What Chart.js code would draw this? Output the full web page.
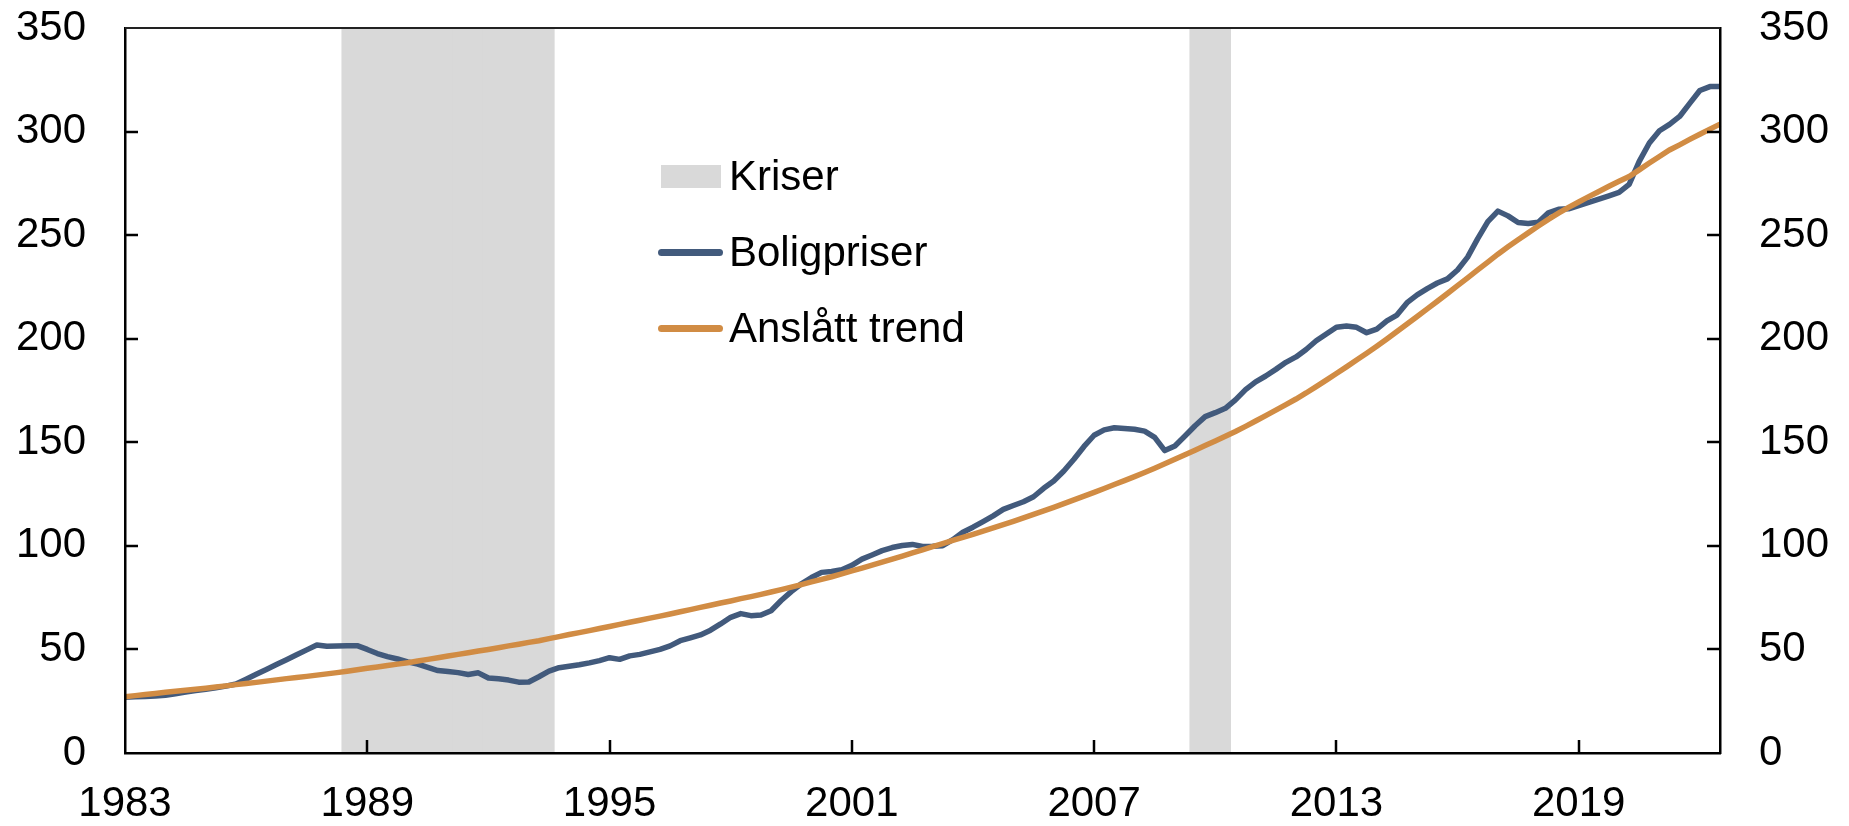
<!DOCTYPE html>
<html lang="no">
<head>
<meta charset="utf-8">
<title>Boligpriser og anslått trend</title>
<script src="https://cdn.jsdelivr.net/npm/chart.js@4.4.1/dist/chart.umd.min.js"></script>
<style>
    html, body { margin: 0; padding: 0; background: #fff; }
    #wrap { position: relative; width: 1849px; height: 826px; }
    #legend {
        position: absolute; left: 658px; top: 138px;
        font: 42px "Liberation Sans", Arial, sans-serif; color: #000;
    }
    .legend-item { display: flex; align-items: center; height: 76px; white-space: nowrap; }
    .legend-swatch { display: inline-block; }
    .legend-swatch.box { width: 60px; height: 23px; margin-left: 3px; margin-right: 8px; }
    .legend-swatch.line { width: 65px; height: 7px; border-radius: 4px; margin-right: 6px; }
</style>
</head>
<body>
<div id="wrap">
    <canvas id="chart"></canvas>
    <div id="legend"></div>
</div>
<script>
// Quarterly index, 1983K1 - 2022K3
const firstYear = 1983;
const quarterCount = 159;
const tickLabels = ['1983', '1989', '1995', '2001', '2007', '2013', '2019'];
const yTicks = { min: 0, max: 350, step: 50 };

const boligpriser = [
    26.9, 27.1, 27.3, 27.5, 27.9, 28.6, 29.4, 30.1, 30.8, 31.5,
    32.3, 33.3, 35.6, 38.0, 40.3, 42.7, 45.0, 47.4, 49.8, 52.1,
    51.5, 51.7, 51.8, 51.8, 50.0, 48.0, 46.5, 45.4, 44.0, 42.9,
    41.3, 39.8, 39.3, 38.8, 37.9, 38.7, 36.2, 35.8, 35.2, 34.2,
    34.3, 36.8, 39.5, 41.2, 41.9, 42.6, 43.5, 44.6, 46.0, 45.2,
    46.9, 47.6, 48.8, 50.0, 51.7, 54.2, 55.6, 57.0, 59.3, 62.3,
    65.5, 67.3, 66.3, 66.6, 68.7, 73.6, 77.9, 81.7, 84.7, 87.2,
    87.6, 88.5, 90.6, 93.6, 95.6, 97.7, 99.2, 100.2, 100.7, 99.7,
    99.8, 100.1, 103.0, 106.6, 109.0, 111.7, 114.5, 117.6, 119.5, 121.3,
    123.7, 127.8, 131.3, 136.1, 141.8, 148.0, 153.4, 156.0, 157.0, 156.7,
    156.3, 155.4, 152.4, 146.0, 148.2, 153.0, 158.0, 162.4, 164.3, 166.4,
    170.5, 175.4, 179.2, 182.0, 185.2, 188.6, 191.2, 194.8, 199.0, 202.3,
    205.5, 206.1, 205.5, 202.9, 204.6, 208.6, 211.4, 217.4, 221.2, 224.2,
    226.9, 228.9, 233.2, 239.4, 248.3, 256.5, 261.6, 259.3, 256.1, 255.6,
    256.2, 260.8, 262.5, 262.7, 264.3, 265.8, 267.4, 269.0, 270.6, 274.5,
    285.6, 294.5, 300.4, 303.5, 307.3, 313.6, 319.8, 321.7, 321.7
];

const trend = [
    27.2, 27.7, 28.2, 28.7, 29.3, 29.8, 30.3, 30.8, 31.3, 31.9,
    32.4, 33.0, 33.6, 34.1, 34.7, 35.3, 35.9, 36.4, 37.0, 37.6,
    38.2, 38.8, 39.5, 40.2, 40.9, 41.5, 42.2, 42.9, 43.6, 44.4,
    45.2, 46.0, 46.8, 47.6, 48.4, 49.2, 50.0, 50.8, 51.7, 52.5,
    53.4, 54.2, 55.2, 56.2, 57.2, 58.1, 59.1, 60.1, 61.1, 62.1,
    63.1, 64.1, 65.1, 66.1, 67.1, 68.2, 69.2, 70.3, 71.3, 72.4,
    73.4, 74.5, 75.5, 76.6, 77.7, 78.9, 80.1, 81.3, 82.6, 83.8,
    85.1, 86.5, 87.9, 89.3, 90.7, 92.1, 93.6, 95.1, 96.6, 98.1,
    99.6, 101.1, 102.6, 104.1, 105.6, 107.1, 108.7, 110.2, 111.8, 113.5,
    115.2, 116.9, 118.6, 120.4, 122.2, 124.0, 125.8, 127.7, 129.6, 131.5,
    133.4, 135.4, 137.5, 139.6, 141.8, 144.0, 146.2, 148.4, 150.6, 152.9,
    155.2, 157.7, 160.3, 162.9, 165.5, 168.2, 170.9, 173.8, 176.9, 180.0,
    183.2, 186.4, 189.7, 193.0, 196.4, 199.9, 203.5, 207.1, 210.7, 214.4,
    218.1, 221.8, 225.6, 229.4, 233.2, 237.0, 240.8, 244.4, 247.8, 251.1,
    254.4, 257.6, 260.6, 263.4, 266.0, 268.6, 271.1, 273.6, 276.0, 278.3,
    281.5, 284.8, 288.0, 291.1, 293.6, 296.2, 298.7, 301.2, 303.6
];

// Crisis periods (first and last quarter shaded)
const kriser = [
    ['1988K3', '1993K3'],
    ['2009K3', '2010K2']
];

const colors = {
    boligpriser: '#425a7c',
    trend: '#d18c44',
    kriser: '#d9d9d9'
};

const categories = [];
for (let i = 0; i < quarterCount; i++) {
    categories.push(`${firstYear + Math.floor(i / 4)}K${(i % 4) + 1}`);
}

const kriseBars = categories.map((q, i) => {
    const inCrisis = kriser.some(([from, to]) =>
        i >= categories.indexOf(from) && i <= categories.indexOf(to));
    return inCrisis ? yTicks.max : null;
});

Chart.defaults.font.family = '"Liberation Sans", Arial, sans-serif';
Chart.defaults.font.size = 42;
Chart.defaults.color = '#000';

const tickLen = 13;

// inward tick marks and the top frame line
const framePlugin = {
    id: 'frame',
    afterDraw(chart) {
        const { ctx, chartArea: a, scales } = chart;
        ctx.save();
        ctx.strokeStyle = '#000';
        ctx.lineWidth = 2.5;
        ctx.beginPath();
        scales.y.ticks.forEach((t, i) => {
            if (t.value <= yTicks.min || t.value >= yTicks.max) return;
            const py = Math.round(scales.y.getPixelForTick(i));
            ctx.moveTo(a.left, py);
            ctx.lineTo(a.left + tickLen, py);
            ctx.moveTo(a.right, py);
            ctx.lineTo(a.right - tickLen, py);
        });
        scales.x.ticks.forEach((t, i) => {
            if (t.value === 0) return;
            const px = Math.round(scales.x.getPixelForTick(i));
            ctx.moveTo(px, a.bottom);
            ctx.lineTo(px, a.bottom - tickLen);
        });
        ctx.stroke();

        ctx.strokeStyle = '#222';
        ctx.lineWidth = 2;
        ctx.beginPath();
        ctx.moveTo(a.left, a.top);
        ctx.lineTo(a.right, a.top);
        ctx.stroke();
        ctx.restore();
    }
};

function yAxis(position, width, padding) {
    return {
        position: position,
        min: yTicks.min,
        max: yTicks.max,
        grid: { display: false, drawTicks: false },
        border: { display: true, color: '#000', width: 2.5, z: 1 },
        ticks: { stepSize: yTicks.step, padding: padding },
        afterFit: scale => {
            scale.width = width;
            scale.paddingTop = 0;
            scale.paddingBottom = 0;
        }
    };
}

const chart = new Chart(document.getElementById('chart'), {
    type: 'line',
    data: {
        labels: categories,
        datasets: [
            {
                label: 'Anslått trend',
                data: trend,
                borderColor: colors.trend,
                borderWidth: 5.5,
                pointRadius: 0,
                tension: 0,
                order: 0
            },
            {
                label: 'Boligpriser',
                data: boligpriser,
                borderColor: colors.boligpriser,
                borderWidth: 5.5,
                borderJoinStyle: 'round',
                pointRadius: 0,
                tension: 0,
                order: 1
            },
            {
                type: 'bar',
                label: 'Kriser',
                data: kriseBars,
                backgroundColor: colors.kriser,
                borderWidth: 0,
                barPercentage: 1,
                categoryPercentage: 1,
                inflateAmount: 0.6,
                order: 2
            }
        ]
    },
    options: {
        responsive: true,
        maintainAspectRatio: false,
        animation: false,
        events: [],
        layout: { padding: { top: 28, left: 0, right: 0, bottom: 0 } },
        plugins: {
            legend: { display: false },
            tooltip: { enabled: false }
        },
        scales: {
            x: {
                type: 'category',
                offset: false,
                grid: { display: false, offset: false, drawTicks: false },
                border: { display: true, color: '#000', width: 2.5, z: 1 },
                ticks: {
                    autoSkip: false,
                    maxRotation: 0,
                    padding: 26,
                    callback: value => tickLabels[value / 24]
                },
                afterBuildTicks: scale => {
                    scale.ticks = scale.ticks.filter(t => t.value % 24 === 0);
                },
                afterFit: scale => { scale.height = 73; }
            },
            y: yAxis('left', 125, 39),
            y2: yAxis('right', 129, 39)
        }
    },
    plugins: [framePlugin]
});

function renderLegend(chart) {
    const items = chart.data.datasets.slice().reverse();
    document.getElementById('legend').innerHTML = items.map(ds => `
        <div class="legend-item">
            <span class="legend-swatch ${ds.type === 'bar' ? 'box' : 'line'}"
                  style="background:${ds.type === 'bar' ? ds.backgroundColor : ds.borderColor}"></span>
            <span>${ds.label}</span>
        </div>
    `).join('');
}

renderLegend(chart);
</script>
</body>
</html>
